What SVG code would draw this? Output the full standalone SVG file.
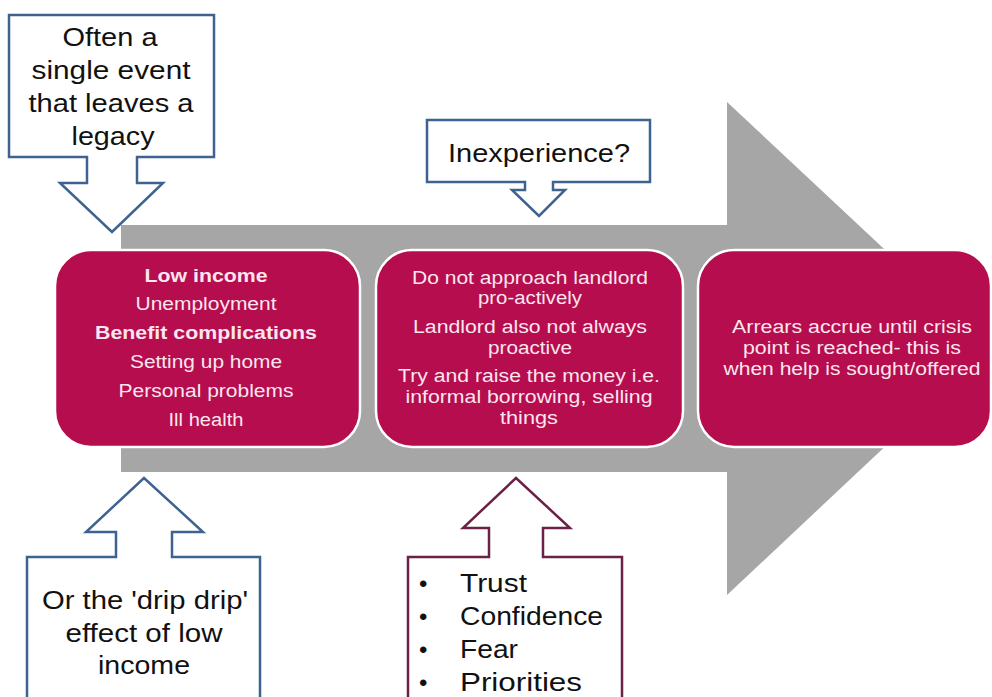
<svg xmlns="http://www.w3.org/2000/svg" width="992" height="697" viewBox="0 0 992 697">
<style>
.big{fill:#a6a6a6}
.box{fill:#b50d4d;stroke:#ffffff;stroke-width:2.5}
.bt{font-family:"Liberation Sans",Arial,sans-serif;font-size:18px;fill:#fbe6ef;text-anchor:middle}
.b{font-weight:bold}
.co{fill:#ffffff;stroke:#3f6390;stroke-width:2.5;stroke-linejoin:miter}
.cp{fill:#ffffff;stroke:#6a2145;stroke-width:2.5;stroke-linejoin:miter}
.ct{font-family:"Liberation Sans",Arial,sans-serif;font-size:26px;fill:#111111;text-anchor:middle}
.lt{font-family:"Liberation Sans",Arial,sans-serif;font-size:25px;fill:#111111}
</style>
<g id="main-arrow">
<polygon class="big" points="121,225 727,225 727,102 990,348 727,595 727,472 121,472"/>
</g>
<g id="callout-single-event">
<path class="co" d="M9,15 H214 V157 H137 V183 H163 L112,232 L60,183 H87 V157 H9 Z"/>
<text class="ct" x="110" y="46" textLength="95" lengthAdjust="spacingAndGlyphs">Often a</text>
<text class="ct" x="111" y="79" textLength="159" lengthAdjust="spacingAndGlyphs">single event</text>
<text class="ct" x="111" y="112" textLength="165" lengthAdjust="spacingAndGlyphs">that leaves a</text>
<text class="ct" x="113" y="145" textLength="83" lengthAdjust="spacingAndGlyphs">legacy</text>
</g>
<g id="callout-inexperience">
<path class="co" d="M427,120 H650 V182 H553 V190 H565 L539,216 L512,190 H525 V182 H427 Z"/>
<text class="ct" x="539" y="162" style="font-size:25px" textLength="182" lengthAdjust="spacingAndGlyphs">Inexperience?</text>
</g>
<g id="box-causes">
<rect class="box" x="55" y="250" width="305" height="197" rx="36"/>
<text class="bt b" x="206" y="282" textLength="123" lengthAdjust="spacingAndGlyphs">Low income</text>
<text class="bt" x="206" y="310" textLength="141" lengthAdjust="spacingAndGlyphs">Unemployment</text>
<text class="bt b" x="206" y="339" textLength="222" lengthAdjust="spacingAndGlyphs">Benefit complications</text>
<text class="bt" x="206" y="368" textLength="152" lengthAdjust="spacingAndGlyphs">Setting up home</text>
<text class="bt" x="206" y="397" textLength="175" lengthAdjust="spacingAndGlyphs">Personal problems</text>
<text class="bt" x="206" y="426" textLength="75" lengthAdjust="spacingAndGlyphs">Ill health</text>
</g>
<g id="box-behaviour">
<rect class="box" x="376" y="250" width="307" height="197" rx="36"/>
<text class="bt" x="530" y="284" textLength="236" lengthAdjust="spacingAndGlyphs">Do not approach landlord</text>
<text class="bt" x="530" y="304" textLength="104" lengthAdjust="spacingAndGlyphs">pro-actively</text>
<text class="bt" x="530" y="333" textLength="234" lengthAdjust="spacingAndGlyphs">Landlord also not always</text>
<text class="bt" x="530" y="354" textLength="84" lengthAdjust="spacingAndGlyphs">proactive</text>
<text class="bt" x="529" y="382" textLength="262" lengthAdjust="spacingAndGlyphs">Try and raise the money i.e.</text>
<text class="bt" x="529" y="403" textLength="247" lengthAdjust="spacingAndGlyphs">informal borrowing, selling</text>
<text class="bt" x="529" y="424" textLength="58" lengthAdjust="spacingAndGlyphs">things</text>
</g>
<g id="box-crisis">
<rect class="box" x="698" y="250" width="293" height="197" rx="36"/>
<text class="bt" x="852" y="333" textLength="240" lengthAdjust="spacingAndGlyphs">Arrears accrue until crisis</text>
<text class="bt" x="852" y="354" textLength="218" lengthAdjust="spacingAndGlyphs">point is reached- this is</text>
<text class="bt" x="852" y="375" textLength="257" lengthAdjust="spacingAndGlyphs">when help is sought/offered</text>
</g>
<g id="callout-drip">
<path class="co" d="M27,710 V557 H116 V532 H86 L144,478 L203,532 H172 V557 H260 V710"/>
<text class="ct" x="145" y="609" style="font-size:25px" textLength="206" lengthAdjust="spacingAndGlyphs">Or the 'drip drip'</text>
<text class="ct" x="144" y="642" style="font-size:25px" textLength="157" lengthAdjust="spacingAndGlyphs">effect of low</text>
<text class="ct" x="144" y="674" style="font-size:25px" textLength="92" lengthAdjust="spacingAndGlyphs">income</text>
</g>
<g id="callout-factors">
<path class="cp" d="M408,710 V557 H489 V528 H463 L516,478 L570,528 H543 V557 H622 V710"/>
<text class="lt" x="419" y="592" style="font-size:24px">•</text>
<text class="lt" x="460" y="592" textLength="67" lengthAdjust="spacingAndGlyphs">Trust</text>
<text class="lt" x="419" y="625" style="font-size:24px">•</text>
<text class="lt" x="460" y="625" textLength="143" lengthAdjust="spacingAndGlyphs">Confidence</text>
<text class="lt" x="419" y="658" style="font-size:24px">•</text>
<text class="lt" x="460" y="658" textLength="58" lengthAdjust="spacingAndGlyphs">Fear</text>
<text class="lt" x="419" y="691" style="font-size:24px">•</text>
<text class="lt" x="460" y="691" textLength="122" lengthAdjust="spacingAndGlyphs">Priorities</text>
</g>
<g id="connectors"></g>
</svg>
